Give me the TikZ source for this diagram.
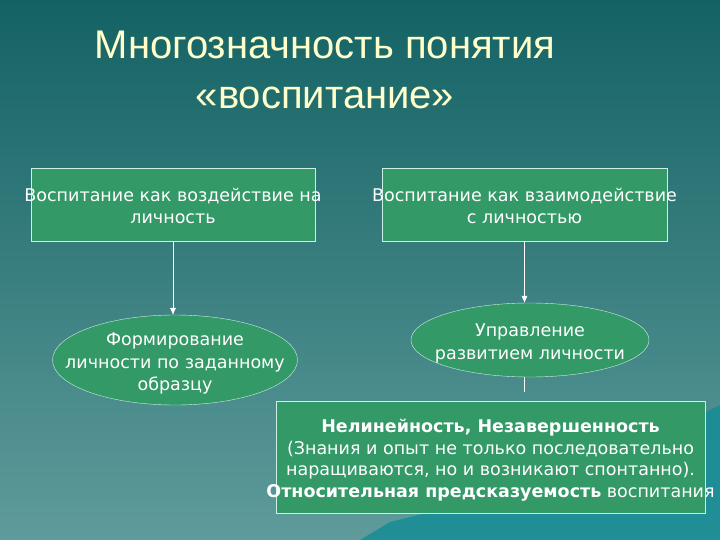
\documentclass[tikz,border=0pt]{standalone}
\usepackage{fontspec}
\setmainfont{DejaVu Sans}
\newfontfamily\titlefont{Liberation Sans}
\usetikzlibrary{shapes.geometric, positioning, arrows.meta}
\definecolor{bgtop}{RGB}{20,98,100}
\definecolor{bgbottom}{RGB}{95,155,155}
\definecolor{boxgreen}{RGB}{51,153,102}
\definecolor{edgeline}{RGB}{205,240,230}
\definecolor{titlecol}{RGB}{255,255,204}
\definecolor{hillcol}{RGB}{18,140,150}
% text that may run past its shape without making it grow
\newcommand{\fixtext}[1]{\makebox[0pt]{\raisebox{-8pt}[0pt][0pt]{\begin{tabular}{@{}c@{}}#1\end{tabular}}}}
\begin{document}
\begin{tikzpicture}[x=1pt, y=-1pt]
    % Define styles
    \tikzstyle{concept} = [rectangle, draw=edgeline, fill=boxgreen, text=white, minimum width=284pt, minimum height=73pt, font=\fontsize{17.5}{22}\selectfont, inner sep=0pt]
    \tikzstyle{result} = [ellipse, draw=edgeline, fill=boxgreen, text=white, font=\fontsize{17.5}{22.5}\selectfont, inner sep=0pt]
    \tikzstyle{arrow} = [-{Latex[length=7pt, width=6pt]}, draw=white, thin]

    % Background
    \useasboundingbox (0,0) rectangle (720,540);
    \shade[top color=bgtop, bottom color=bgbottom] (0,0) rectangle (720,540);
    \fill[hillcol, opacity=0.8] (360,540) -- (390,522) -- (430,512) -- (480,508) -- (540,500)
        -- (600,470) -- (650,440) -- (700,415) -- (720,405) -- (720,540) -- cycle;

    % Title
    \node[text=titlecol, align=center, font=\titlefont\fontsize{40}{50}\selectfont] (title) at (325,70)
        {Многозначность понятия\\\hspace*{0pt}«воспитание»};

    % Nodes
    \node[concept] (impact) at (173,204.5) {\fixtext{Воспитание как воздействие на\\личность}};
    \node[concept, minimum width=285pt] (interact) at (524.5,204.5) {\fixtext{Воспитание как взаимодействие\\с личностью}};
    \node[result, minimum width=245pt, minimum height=90pt] (model) at (175,360)
        {\fixtext{Формирование\\личности по заданному\\образцу}};
    \node[result, minimum width=238pt, minimum height=74pt] (guide) at (530,340)
        {\fixtext{Управление\\развитием личности}};
    \node[concept, minimum width=429pt, minimum height=112pt, font=\fontsize{17.5}{21.5}\selectfont] (nonlin) at (490.5,457)
        {\fixtext{\textbf{Нелинейность, Незавершенность}\\(Знания и опыт не только последовательно\\наращиваются, но и возникают спонтанно).\\\textbf{Относительная предсказуемость} воспитания}};

    % Connections
    \draw[arrow] (impact) -- (impact |- model.north);
    \draw[arrow] (interact) -- (interact |- guide.north);
    \draw[draw=white, thin, shorten >=9pt] (guide.south -| interact) -- (interact |- nonlin.north);
\end{tikzpicture}
\end{document}
